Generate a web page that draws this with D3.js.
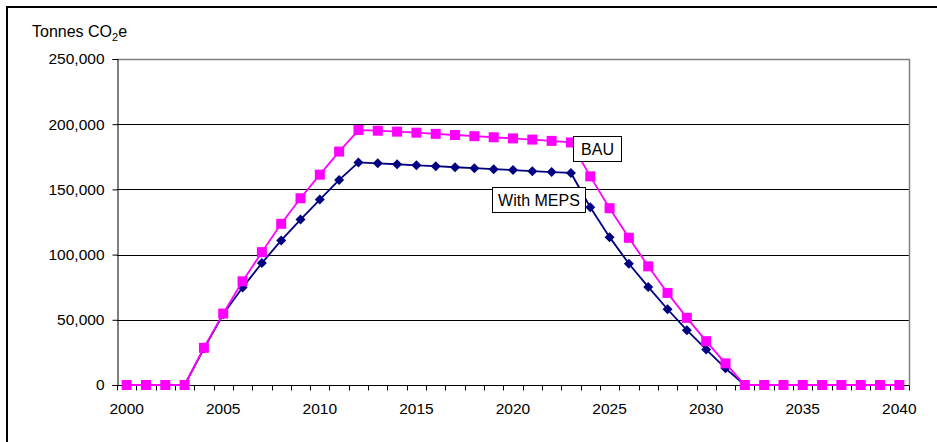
<!DOCTYPE html>
<html>
<head>
<meta charset="utf-8">
<script src="https://cdn.jsdelivr.net/npm/d3@7/dist/d3.min.js"></script>
<style>
  html, body { margin: 0; padding: 0; background: #fff; }
  svg { display: block; font-family: Arial, "Liberation Sans", sans-serif; }
</style>
</head>
<body>
<svg id="chart" width="937" height="442"></svg>
<script>
// Annual emissions, tonnes CO2e
const years = d3.range(2000, 2041);
const bau = [
  0, 0, 0, 0, 28500, 54800, 79500, 101900, 123600, 143200,
  161300, 179000, 195500, 195000, 194300, 193500, 192600, 191700, 190800, 190000,
  189100, 188200, 187200, 186000, 160000, 135600, 112900, 91000, 70600, 51500,
  33600, 16600, 0, 0, 0, 0, 0, 0, 0, 0, 0
];
const meps = [
  0, 0, 0, 0, 28000, 54200, 74700, 93500, 110900, 126900,
  142200, 157300, 170700, 170000, 169300, 168500, 167800, 167000, 166300, 165500,
  164800, 164000, 163300, 162600, 136300, 113400, 93000, 75200, 58100, 42000,
  27300, 12800, 0, 0, 0, 0, 0, 0, 0, 0, 0
];
const yTicks = [0, 50000, 100000, 150000, 200000, 250000];
const xLabelYears = [2000, 2005, 2010, 2015, 2020, 2025, 2030, 2035, 2040];

const svg = d3.select("#chart");
const plotLeft = 117, plotRight = 909, plotTop = 59, plotBottom = 385;
const fontSize = 15.5;

// Outer chart frame (only its top and left edges fall inside the window)
svg.append("rect")
  .attr("x", 7).attr("y", 7).attr("width", 960).attr("height", 460)
  .attr("fill", "none").attr("stroke", "#000").attr("stroke-width", 2);

const x = d3.scaleBand().domain(years).range([plotLeft, plotRight]).paddingInner(0).paddingOuter(0);
const y = d3.scaleLinear().domain([0, 250000]).range([plotBottom, plotTop]);
const cx = d => x(d) + x.bandwidth() / 2;

// Gridlines
svg.append("g")
  .selectAll("line")
  .data(yTicks.slice(1, -1))
  .join("line")
  .attr("x1", plotLeft).attr("x2", plotRight)
  .attr("y1", d => Math.round(y(d)) + 0.5).attr("y2", d => Math.round(y(d)) + 0.5)
  .attr("stroke", "#000").attr("stroke-width", 1);

// Plot area border (top and right)
svg.append("path")
  .attr("d", `M${plotLeft},${plotTop + 0.5}H${plotRight + 0.5}V${plotBottom}`)
  .attr("fill", "none").attr("stroke", "#808080").attr("stroke-width", 1.5);

// Y axis
const yAxis = svg.append("g")
  .attr("transform", `translate(${plotLeft + 0.5},0)`)
  .call(d3.axisLeft(y).tickValues(yTicks).tickSize(5).tickPadding(8)
    .tickFormat(d3.format(",")));
yAxis.select(".domain").attr("stroke", "#000");
yAxis.selectAll(".tick line").attr("stroke", "#000");
yAxis.selectAll(".tick text").attr("font-size", fontSize).attr("fill", "#000")
  .attr("font-family", "Arial, 'Liberation Sans', sans-serif");

// X axis: ticks on category boundaries, labels at every fifth year
const xAxisG = svg.append("g").attr("transform", `translate(0,${plotBottom + 0.5})`);
xAxisG.append("line")
  .attr("x1", plotLeft).attr("x2", plotRight + 0.5)
  .attr("stroke", "#000");
const boundaries = years.map(d => x(d)).concat([plotRight]);
xAxisG.selectAll("line.tk")
  .data(boundaries)
  .join("line")
  .attr("class", "tk")
  .attr("x1", d => Math.round(d) + 0.5).attr("x2", d => Math.round(d) + 0.5)
  .attr("y1", 0).attr("y2", 5)
  .attr("stroke", "#000");
xAxisG.selectAll("text")
  .data(xLabelYears)
  .join("text")
  .attr("x", d => cx(d))
  .attr("y", 28)
  .attr("text-anchor", "middle")
  .attr("font-size", fontSize)
  .attr("fill", "#000")
  .text(d => d);

// Axis title
const title = svg.append("text")
  .attr("x", 32).attr("y", 37)
  .attr("font-size", 16)
  .attr("fill", "#000");
title.append("tspan").text("Tonnes CO");
title.append("tspan").attr("font-size", 11).attr("dy", 4).text("2");
title.append("tspan").attr("dy", -4).text("e");

const line = d3.line().x((d, i) => cx(years[i])).y(d => y(d));

// With MEPS series
svg.append("path")
  .datum(meps)
  .attr("d", line)
  .attr("fill", "none").attr("stroke", "#000080").attr("stroke-width", 1.8);
svg.append("g")
  .selectAll("path")
  .data(meps)
  .join("path")
  .attr("transform", (d, i) => `translate(${cx(years[i])},${y(d)})`)
  .attr("d", "M0,-5L5,0L0,5L-5,0Z")
  .attr("fill", "#000080");

// BAU series
svg.append("path")
  .datum(bau)
  .attr("d", line)
  .attr("fill", "none").attr("stroke", "#FF00FF").attr("stroke-width", 1.8);
svg.append("g")
  .selectAll("rect")
  .data(bau)
  .join("rect")
  .attr("x", (d, i) => cx(years[i]) - 5)
  .attr("y", d => y(d) - 5)
  .attr("width", 10).attr("height", 10)
  .attr("fill", "#FF00FF");

// Series labels
function boxLabel(txt, bx, by, bw, bh) {
  svg.append("rect")
    .attr("x", bx + 0.5).attr("y", by + 0.5).attr("width", bw).attr("height", bh)
    .attr("fill", "#fff").attr("stroke", "#000").attr("stroke-width", 1);
  svg.append("text")
    .attr("x", bx + bw / 2 + 0.5).attr("y", by + bh / 2 + 6.5)
    .attr("text-anchor", "middle")
    .attr("font-size", 16).attr("fill", "#000")
    .text(txt);
}
boxLabel("BAU", 573, 136, 48, 25);
boxLabel("With MEPS", 492, 187, 93, 25);
</script>
</body>
</html>
